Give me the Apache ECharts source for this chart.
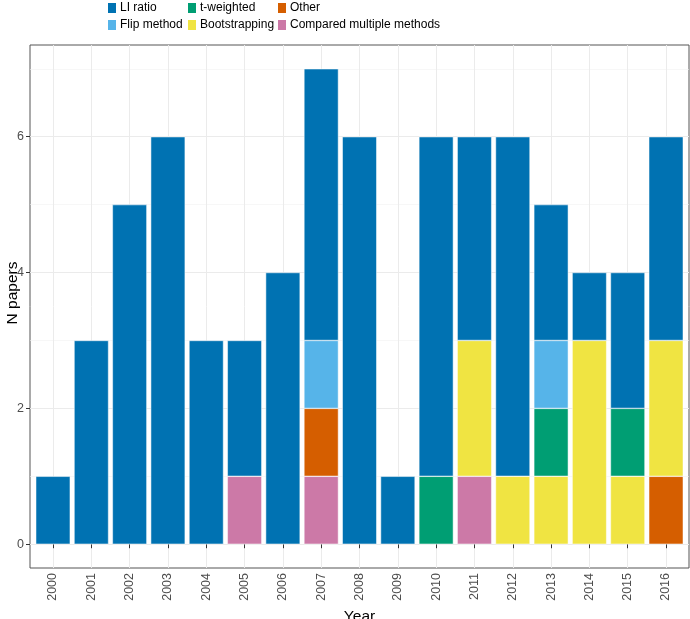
<!DOCTYPE html>
<html>
<head>
<meta charset="utf-8">
<script src="https://cdn.jsdelivr.net/npm/echarts@6/dist/echarts.min.js"></script>
<style>
  html, body { margin: 0; padding: 0; background: #fff; }
  #chart { width: 690px; height: 619px; }
</style>
</head>
<body>
<div id="chart"></div>
<script>
// ---- data ----
const years = [2000, 2001, 2002, 2003, 2004, 2005, 2006, 2007, 2008, 2009, 2010, 2011, 2012, 2013, 2014, 2015, 2016];
const liRatio       = [1, 3, 5, 6, 3, 2, 4, 4, 6, 1, 5, 3, 5, 2, 1, 2, 3];
const flipMethod    = [0, 0, 0, 0, 0, 0, 0, 1, 0, 0, 0, 0, 0, 1, 0, 0, 0];
const tWeighted     = [0, 0, 0, 0, 0, 0, 0, 0, 0, 0, 1, 0, 0, 1, 0, 1, 0];
const bootstrapping = [0, 0, 0, 0, 0, 0, 0, 0, 0, 0, 0, 2, 1, 1, 3, 1, 2];
const other         = [0, 0, 0, 0, 0, 0, 0, 1, 0, 0, 0, 0, 0, 0, 0, 0, 1];
const compared      = [0, 0, 0, 0, 0, 1, 0, 1, 0, 0, 0, 1, 0, 0, 0, 0, 0];
const yMajorTicks = [0, 2, 4, 6];
const yMinorTicks = [1, 3, 5, 7];

// stacking order: bottom to top
const seriesDefs = [
  { name: 'Compared multiple methods', values: compared, color: '#CC79A7' },
  { name: 'Other', values: other, color: '#D55E00' },
  { name: 'Bootstrapping', values: bootstrapping, color: '#F0E442' },
  { name: 't-weighted', values: tWeighted, color: '#009E73' },
  { name: 'Flip method', values: flipMethod, color: '#56B4E9' },
  { name: 'LI ratio', values: liRatio, color: '#0072B2' }
];

const FONT = 'Liberation Sans, Arial, sans-serif';
const chart = echarts.init(document.getElementById('chart'), null, { renderer: 'canvas' });

// panel geometry (ggplot-like discrete expansion of 0.6 on each side)
const PANEL = { left: 30, right: 1, top: 45, bottom: 51 };
const panelW = 690 - PANEL.left - PANEL.right;
const unit = panelW / (years.length - 1 + 1.2);
const pad = 0.1 * unit;

const legendCommon = {
  orient: 'vertical',
  top: 1,
  icon: 'rect',
  itemWidth: 10,
  itemHeight: 12,
  itemGap: 3,
  padding: 0,
  selectedMode: false,
  textStyle: { fontFamily: FONT, fontSize: 12, color: '#000', lineHeight: 12, padding: [0, 0, 0, -2] }
};

const option = {
  animation: false,
  backgroundColor: '#fff',
  legend: [
    Object.assign({}, legendCommon, { left: 106, data: ['LI ratio', 'Flip method'] }),
    Object.assign({}, legendCommon, { left: 186, data: ['t-weighted', 'Bootstrapping'] }),
    Object.assign({}, legendCommon, { left: 276, data: ['Other', 'Compared multiple methods'] })
  ],
  grid: [
    {
      left: PANEL.left, right: PANEL.right, top: PANEL.top, bottom: PANEL.bottom,
      outerBoundsMode: 'none', containLabel: false,
      show: true, borderColor: '#555', borderWidth: 1, backgroundColor: 'transparent'
    },
    {
      left: PANEL.left + pad, right: PANEL.right + pad, top: PANEL.top, bottom: PANEL.bottom,
      outerBoundsMode: 'none', containLabel: false
    }
  ],
  xAxis: [
    {
      gridIndex: 0,
      type: 'value',
      min: years[0] - 0.6, max: years[years.length - 1] + 0.6,
      name: 'Year',
      nameLocation: 'middle',
      nameGap: 36,
      nameTextStyle: { fontFamily: FONT, fontSize: 15.5, color: '#000' },
      axisLine: { show: false },
      axisTick: { show: true, length: 4, customValues: years, lineStyle: { color: '#333' } },
      axisLabel: {
        customValues: years, rotate: 90, margin: 5,
        fontFamily: FONT, fontSize: 12.5, color: '#4D4D4D',
        formatter: v => String(v)
      },
      splitLine: { show: true, lineStyle: { color: '#EBEBEB', width: 1 } }
    },
    {
      gridIndex: 1,
      type: 'category',
      data: years.map(String),
      boundaryGap: true,
      axisLine: { show: false },
      axisTick: { show: false },
      axisLabel: { show: false },
      splitLine: { show: false }
    }
  ],
  yAxis: [
    {
      gridIndex: 0,
      type: 'value',
      min: -0.35, max: 7.35,
      axisLine: { show: false },
      axisTick: { show: true, length: 4, customValues: yMajorTicks, lineStyle: { color: '#333' } },
      axisLabel: { customValues: yMajorTicks, margin: 6, fontFamily: FONT, fontSize: 12.5, color: '#4D4D4D' },
      splitLine: { show: true, lineStyle: { color: '#EBEBEB', width: 1 } }
    },
    {
      gridIndex: 0,
      type: 'value',
      min: -0.35, max: 7.35,
      position: 'left',
      axisLine: { show: false },
      axisTick: { show: false, customValues: yMinorTicks },
      axisLabel: { show: false, customValues: yMinorTicks },
      splitLine: { show: true, lineStyle: { color: '#F2F2F2', width: 0.6 } }
    },
    {
      gridIndex: 1,
      type: 'value',
      min: -0.35, max: 7.35,
      axisLine: { show: false },
      axisTick: { show: false },
      axisLabel: { show: false },
      splitLine: { show: false }
    }
  ],
  graphic: [
    {
      type: 'text',
      x: 13, y: 293,
      rotation: Math.PI / 2,
      style: {
        text: 'N papers', fontFamily: FONT, fontSize: 15.5, fill: '#000',
        textAlign: 'center', textVerticalAlign: 'middle'
      }
    }
  ],
  series: seriesDefs.map(d => ({
    name: d.name,
    type: 'bar',
    stack: 'total',
    xAxisIndex: 1,
    yAxisIndex: 2,
    barWidth: '90%',
    itemStyle: { color: d.color, borderColor: '#fff', borderWidth: 0.5 },
    data: d.values.map(v => (v === 0 ? '-' : v))
  }))
};

chart.setOption(option);
</script>
</body>
</html>
